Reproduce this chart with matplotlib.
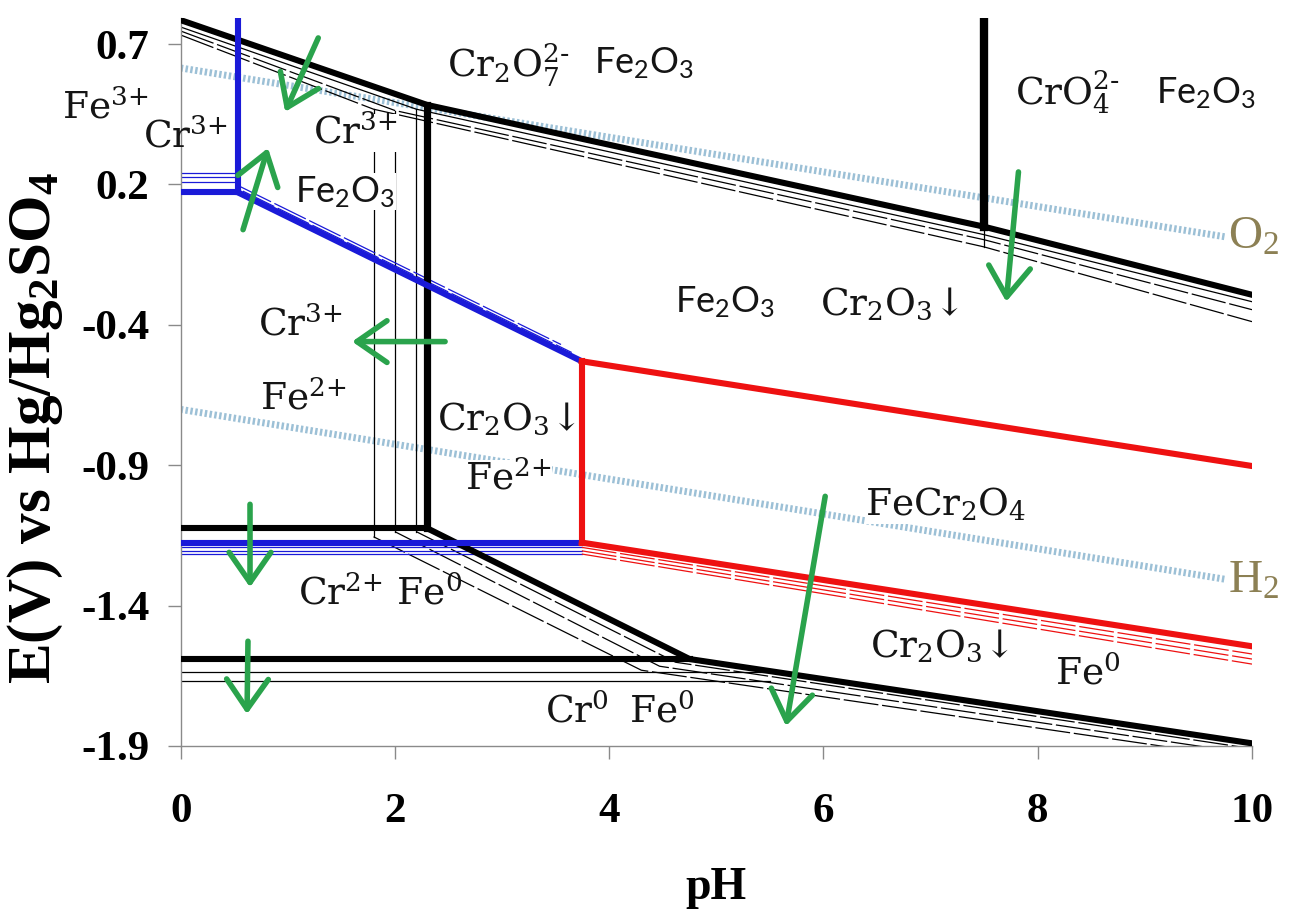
import matplotlib
matplotlib.use("Agg")
import matplotlib.pyplot as plt

# ---------------- data: pH vs E (V vs Hg/Hg2SO4) ----------------
# Cr(VI) / Cr(III) upper boundary and lower-concentration copies
top_ph = [0, 2.3, 7.5, 10]
top_e = [0.79, 0.471, 0.013, -0.243]
top_thin_ph = [[0, 2.2, 7.5, 10], [0, 2.0, 7.5, 10], [0, 1.8, 7.5, 10]]
top_thin_e = [[0.764, 0.455, -0.017, -0.269],
              [0.749, 0.450, -0.036, -0.299],
              [0.734, 0.455, -0.063, -0.344]]

# Cr3+ / Cr2O3 hydrolysis boundaries
cr3_ph = 2.3
cr3_e = [0.471, -1.121]
cr3_thin_ph = [2.2, 2.0, 1.8]
cr3_thin_top = [0.455, 0.450, 0.455]
cr3_thin_bot = [-1.134, -1.134, -1.153]

# Cr2O7(2-) / CrO4(2-)
cro4_ph = 7.5
cro4_e = [0.013, 0.80]
cro4_thin_e = [-0.063, 0.013]

# Cr3+ / Cr2+ and Cr2O3 / Cr2+
cr2_ph = [0, 2.3]
cr2_e = [-1.121, -1.121]
cr2_diag_ph = [2.3, 4.75, 10]
cr2_diag_e = [-1.121, -1.613, -1.93]
cr2_thin_ph = [[2.2, 4.62, 10], [2.0, 4.47, 10], [1.8, 4.3, 10]]
cr2_thin_e = [[-1.134, -1.625, -1.95],
              [-1.134, -1.640, -1.97],
              [-1.153, -1.655, -1.99]]

# Cr2+ / Cr0
cr0_ph = [0, 4.75]
cr0_e = [-1.613, -1.613]
cr0_thin_ph = [0, 5.5]
cr0_thin_e = [-1.662, -1.696]

# Fe3+ / Fe2O3 / Fe2+
fe3_ph = [0, 0.535]
fe3_e = [0.142, 0.142]
fe3_vert_ph = 0.535
fe3_vert_e = [0.142, 0.80]
fe3_thin_e = [0.216, 0.199, 0.182]
fe23_ph = [0.535, 3.744]
fe23_e = [0.142, -0.493]
fe23_thin_ph = [[0.55, 3.55], [0.58, 3.65]]
fe23_thin_e = [[0.165, -0.430], [0.147, -0.460]]

# Fe2+ / Fe0
fe0_ph = [0, 3.744]
fe0_e = [-1.175, -1.175]
fe0_thin_e = [-1.193, -1.206, -1.218]

# FeCr2O4 stability field
fecr_vert_ph = 3.744
fecr_vert_e = [-1.175, -0.493]
fecr_ph = [3.744, 10]
fecr_up_e = [-0.493, -0.887]
fecr_lo_e = [-1.175, -1.565]
fecr_thin_e = [[-1.193, -1.594], [-1.206, -1.613], [-1.218, -1.632]]

# water stability lines
water_ph = [0, 9.75]
o2_e = [0.61, -0.025]
h2_e = [-0.674, -1.313]

# axis ticks
x_ticks = [0, 2, 4, 6, 8, 10]
x_labels = ["0", "2", "4", "6", "8", "10"]
y_ticks = [0.7, 0.172, -0.356, -0.884, -1.412, -1.94]
y_labels = ["0.7", "0.2", "-0.4", "-0.9", "-1.4", "-1.9"]

# region labels: text, pH, E, style, white background
SERIF, SANS = "serif", "sans"
P, M = r"\text{+}", r"\text{-}"
labels = [
    (r"$\mathregular{Cr_2O_7^{2" + M + "}}$", 2.49, 0.621, SERIF, False),
    (r"$\mathregular{Fe_2O_3}$", 3.86, 0.629, SANS, False),
    (r"$\mathregular{CrO_4^{2" + M + "}}$", 7.79, 0.520, SERIF, False),
    (r"$\mathregular{Fe_2O_3}$", 9.10, 0.516, SANS, False),
    (r"$\mathregular{Fe^{3" + P + "}}$", -1.108, 0.460, SERIF, False),
    (r"$\mathregular{Cr^{3" + P + "}}$", -0.352, 0.351, SERIF, False),
    (r"$\mathregular{Cr^{3" + P + "}}$", 1.235, 0.366, SERIF, True),
    (r"$\mathregular{Fe_2O_3}$", 1.067, 0.144, SANS, True),
    (r"$\mathregular{Fe_2O_3}$", 4.615, -0.269, SANS, False),
    (r"$\mathregular{Cr_2O_3}$↓", 5.97, -0.280, SERIF, False),
    (r"$\mathregular{Cr^{3" + P + "}}$", 0.722, -0.355, SERIF, False),
    (r"$\mathregular{Fe^{2" + P + "}}$", 0.74, -0.637, SERIF, True),
    (r"$\mathregular{Cr_2O_3}$↓", 2.393, -0.712, SERIF, True),
    (r"$\mathregular{Fe^{2" + P + "}}$", 2.655, -0.937, SERIF, True),
    (r"$\mathregular{FeCr_2O_4}$", 6.39, -1.031, SERIF, True),
    (r"$\mathregular{Cr^{2" + P + r"}\ Fe^0}$", 1.096, -1.369, SERIF, False),
    (r"$\mathregular{Cr_2O_3}$↓", 6.436, -1.568, SERIF, False),
    (r"$\mathregular{Fe^0}$", 8.165, -1.670, SERIF, False),
    (r"$\mathregular{Cr^0}$", 3.40, -1.812, SERIF, True),
    (r"$\mathregular{Fe^0}$", 4.18, -1.812, SERIF, False),
]
water_labels = [(r"$\mathregular{O_2}$", 9.78, -0.028),
                (r"$\mathregular{H_2}$", 9.78, -1.320)]

# direction arrows: (pH, E) of tail and head
arrow_tail = [(1.284, 0.723), (0.582, 0.002), (2.468, -0.419), (0.647, -1.031),
              (0.628, -1.546), (6.016, -1.001), (7.82, 0.219)]
arrow_head = [(0.975, 0.445), (0.815, 0.309), (1.60, -0.419), (0.647, -1.343),
              (0.619, -1.820), (5.65, -1.865), (7.706, -0.269)]

# ---------------- drawing ----------------
BLACK, BLUE, RED = "#000000", "#1a1ad8", "#ee1111"
GREEN, WATER, OLIVE = "#2aa34c", "#9cc0d6", "#8c8054"
THICK, THIN = 4.4, 0.9
LONG = (0, (28, 3))

fig = plt.figure(figsize=(12.94, 9.17), dpi=100)
ax = fig.add_axes([180.7 / 1294, 1 - 746 / 917, 1071.3 / 1294, 728 / 917])
ax.set_xlim(0, 10)
ax.set_ylim(-1.94, 0.798)

# water lines
for e in (o2_e, h2_e):
    ax.plot(water_ph, e, color=WATER, lw=5, ls=(0, (0.35, 0.35)), zorder=1)

# thin (lower concentration) lines
for i, (xs, ys) in enumerate(zip(top_thin_ph, top_thin_e)):
    ax.plot(xs, ys, color=BLACK, lw=THIN, ls="-" if i == 0 else LONG, zorder=2)
for x, t, b in zip(cr3_thin_ph, cr3_thin_top, cr3_thin_bot):
    ax.plot([x, x], [t, b], color=BLACK, lw=THIN, zorder=2)
ax.plot([cro4_ph, cro4_ph], cro4_thin_e, color=BLACK, lw=THIN, zorder=2)
for xs, ys in zip(cr2_thin_ph, cr2_thin_e):
    ax.plot(xs, ys, color=BLACK, lw=THIN, ls=LONG, zorder=2)
for e in cr0_thin_e:
    ax.plot(cr0_thin_ph, [e, e], color=BLACK, lw=THIN, zorder=2)
for e in fe3_thin_e:
    ax.plot(fe3_ph, [e, e], color=BLUE, lw=THIN, zorder=2)
for xs, ys in zip(fe23_thin_ph, fe23_thin_e):
    ax.plot(xs, ys, color=BLUE, lw=THIN, ls=LONG, zorder=2)
for e in fe0_thin_e:
    ax.plot(fe0_ph, [e, e], color=BLUE, lw=THIN, zorder=2)
for ys in fecr_thin_e:
    ax.plot(fecr_ph, ys, color=RED, lw=THIN, ls=LONG, zorder=2)

# main boundaries
ax.plot(top_ph, top_e, color=BLACK, lw=THICK, zorder=4)
ax.plot([cr3_ph, cr3_ph], cr3_e, color=BLACK, lw=5.2, zorder=4)
ax.plot([cro4_ph, cro4_ph], cro4_e, color=BLACK, lw=6.0, zorder=4)
ax.plot(cr2_ph, cr2_e, color=BLACK, lw=THICK, zorder=4)
ax.plot(cr2_diag_ph, cr2_diag_e, color=BLACK, lw=THICK, zorder=4)
ax.plot(cr0_ph, cr0_e, color=BLACK, lw=THICK, zorder=4)

ax.plot(fe3_ph, fe3_e, color=BLUE, lw=THICK, zorder=5)
ax.plot([fe3_vert_ph, fe3_vert_ph], fe3_vert_e, color=BLUE, lw=THICK, zorder=5)
ax.plot(fe23_ph, fe23_e, color=BLUE, lw=THICK, zorder=5)
ax.plot(fe0_ph, fe0_e, color=BLUE, lw=THICK, zorder=5)

ax.plot([fecr_vert_ph, fecr_vert_ph], fecr_vert_e, color=RED, lw=THICK, zorder=5)
ax.plot(fecr_ph, fecr_up_e, color=RED, lw=THICK, zorder=5)
ax.plot(fecr_ph, fecr_lo_e, color=RED, lw=THICK, zorder=5)

# region labels
fam = {SERIF: "DejaVu Serif", SANS: "Lato"}
size = {SERIF: 27, SANS: 26}
for txt, x, y, style, bg in labels:
    kw = {}
    if bg:
        kw["bbox"] = dict(facecolor="white", edgecolor="none", pad=0.5)
    ax.text(x, y, txt, family=fam[style], fontsize=size[style], color="#151515",
            ha="left", va="center", zorder=6, clip_on=False, **kw)
for txt, x, y in water_labels:
    ax.text(x, y, txt, family="Liberation Serif", fontsize=34, color=OLIVE,
            ha="left", va="center", zorder=6, clip_on=False)

# arrows
for (x0, y0), (x1, y1) in zip(arrow_tail, arrow_head):
    ax.annotate("", xy=(x1, y1), xytext=(x0, y0), zorder=7,
                arrowprops=dict(arrowstyle="->,head_length=0.72,head_width=0.5",
                                mutation_scale=30, color=GREEN, lw=4.0,
                                shrinkA=0, shrinkB=0))

# axes styling
for side in ("top", "right"):
    ax.spines[side].set_visible(False)
for side in ("left", "bottom"):
    ax.spines[side].set_color("#8a8a8a")
    ax.spines[side].set_linewidth(1.0)
ax.set_xticks(x_ticks)
ax.set_xticklabels(x_labels)
ax.set_yticks(y_ticks)
ax.set_yticklabels(y_labels)
ax.tick_params(axis="both", direction="out", length=9.5, width=1.0, color="#8a8a8a")
ax.tick_params(axis="x", pad=24)
ax.tick_params(axis="y", pad=13)
for lab in ax.get_xticklabels() + ax.get_yticklabels():
    lab.set_family("Liberation Serif")
    lab.set_fontweight("bold")
    lab.set_fontsize(31)

ax.set_xlabel("pH", family="Liberation Serif", fontweight="bold", fontsize=33)
ax.xaxis.set_label_coords(0.5, -0.166)
ax.set_ylabel(r"E(V) vs Hg/Hg$\mathregular{_2}$SO$\mathregular{_4}$",
              family="Liberation Serif", fontweight="bold", fontsize=44)
ax.yaxis.set_label_coords(-0.108, 0.437)

fig.savefig("out.png", dpi=100)
